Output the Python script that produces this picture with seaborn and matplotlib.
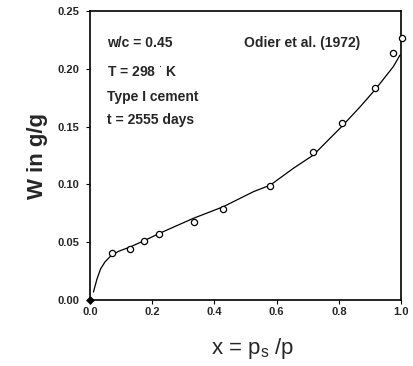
import numpy as np
import pandas as pd
import matplotlib
matplotlib.use("Agg")
import matplotlib.pyplot as plt
import seaborn as sns

# measured points (Odier et al. 1972)
x_obs = [0.070, 0.129, 0.173, 0.223, 0.333, 0.428, 0.580, 0.717, 0.809, 0.916, 0.975, 1.002]
w_obs = [0.0409, 0.0439, 0.0508, 0.0571, 0.0672, 0.0787, 0.0988, 0.1283, 0.1533, 0.1834, 0.2135, 0.2265]

# model curve
x_fit = [0.011, 0.022, 0.034, 0.048, 0.064, 0.090, 0.129, 0.175, 0.223, 0.280, 0.332, 0.428,
         0.525, 0.580, 0.654, 0.718, 0.809, 0.868, 0.916, 0.975, 0.997]
w_fit = [0.007, 0.018, 0.027, 0.033, 0.0375, 0.0420, 0.046, 0.0515, 0.0577, 0.0645, 0.0707, 0.0807,
         0.0937, 0.0995, 0.114, 0.1254, 0.150, 0.167, 0.1817, 0.2018, 0.212]

info_lines = ["w/c = 0.45", "T = 298 $^{\\cdot}$ K", "Type I cement", "t = 2555 days"]
info_y = [0.889, 0.789, 0.702, 0.623]
source = "Odier et al. (1972)"

df_obs = pd.DataFrame({"x": x_obs, "w": w_obs})
df_fit = pd.DataFrame({"x": x_fit, "w": w_fit})

sns.set_theme(style="ticks")
plt.rcParams["font.family"] = ["Liberation Sans", "DejaVu Sans"]

fig = plt.figure(figsize=(4.13, 3.66), dpi=100)
ax = fig.add_axes([0.218, 0.180, 0.753, 0.790])

sns.lineplot(data=df_fit, x="x", y="w", color="black", linewidth=0.9, ax=ax)
sns.scatterplot(data=df_obs, x="x", y="w", marker="o", s=20, facecolor="white",
                edgecolor="black", linewidth=0.9, ax=ax, clip_on=False, zorder=3)
ax.plot([0], [0], marker="D", color="black", markersize=3.5, clip_on=False, zorder=4)

ax.set_xlim(0, 1.0)
ax.set_ylim(0, 0.25)
ax.set_xticks([0.0, 0.2, 0.4, 0.6, 0.8, 1.0])
ax.set_yticks([0.00, 0.05, 0.10, 0.15, 0.20, 0.25])
ax.xaxis.set_major_formatter(matplotlib.ticker.FormatStrFormatter("%.1f"))
ax.yaxis.set_major_formatter(matplotlib.ticker.FormatStrFormatter("%.2f"))
ax.tick_params(labelsize=8, length=3, width=0.8, color="black", pad=2)
ax.tick_params(axis="y", pad=5)
for lab in ax.get_xticklabels() + ax.get_yticklabels():
    lab.set_fontweight("bold")
for sp in ax.spines.values():
    sp.set_visible(True)
    sp.set_color("black")
    sp.set_linewidth(1.2)

ax.set_xlabel("x = p$_\\mathregular{s}$ /p", fontsize=16)
ax.xaxis.set_label_coords(0.524, -0.166)
ax.xaxis.label.set_va("center")
ax.set_ylabel("W in g/g", fontsize=16, fontweight="bold")
ax.yaxis.set_label_coords(-0.17, 0.5)
ax.yaxis.label.set_va("center")

for line, yy in zip(info_lines, info_y):
    ax.text(0.055, yy, line, transform=ax.transAxes,
            fontsize=10, fontweight="bold", va="center", ha="left")
ax.text(0.495, 0.889, source, transform=ax.transAxes, fontsize=10,
        fontweight="bold", va="center", ha="left")

fig.savefig("out.png", dpi=100, facecolor="white")
